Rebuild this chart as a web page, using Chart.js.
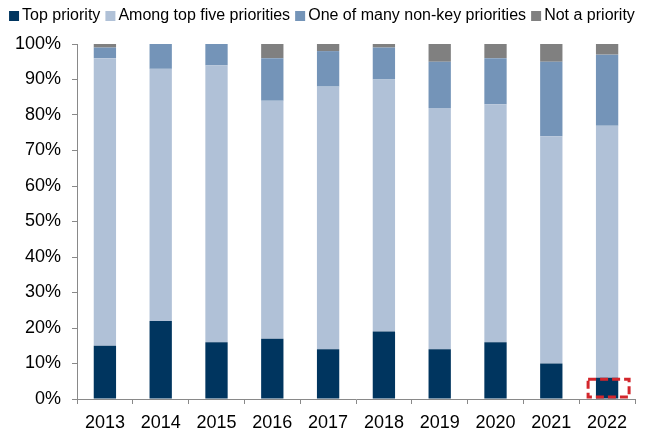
<!DOCTYPE html>
<html>
<head>
<meta charset="utf-8">
<script src="https://cdn.jsdelivr.net/npm/chart.js@4/dist/chart.umd.min.js"></script>
<style>
  html, body { margin: 0; padding: 0; background: #fff; }
  canvas { display: block; }
</style>
</head>
<body>
<canvas id="priorityChart" width="657" height="429"></canvas>
<script>
const years = ['2013', '2014', '2015', '2016', '2017', '2018', '2019', '2020', '2021', '2022'];
const topPriority = [15, 22, 16, 17, 14, 19, 14, 16, 10, 6];
const amongTopFive = [81, 71, 78, 67, 74, 71, 68, 67, 64, 71];
const nonKeyPriority = [3, 7, 6, 12, 10, 9, 13, 13, 21, 20];
const notAPriority = [1, 0, 0, 4, 2, 1, 5, 4, 5, 3];
const yTicks = [0, 10, 20, 30, 40, 50, 60, 70, 80, 90, 100];

const axisGrey = '#898989';
Chart.defaults.font.family = 'Arial, "Liberation Sans", sans-serif';
Chart.defaults.color = '#000';

// legend is one row, leave room under it before the plot starts
const legendSpacing = {
  id: 'legendSpacing',
  beforeLayout(chart) {
    const lg = chart.legend;
    if (!lg || lg._spaced) return;
    const fit = lg.fit;
    lg.fit = function () {
      fit.call(this);
      this.height = 46;
    };
    lg._spaced = true;
  }
};

// dashed red outline around the latest "Top priority" bar
const highlight2022 = {
  id: 'highlight2022',
  afterDatasetsDraw(chart) {
    const bar = chart.getDatasetMeta(0).data[years.indexOf('2022')];
    if (!bar) return;
    const ctx = chart.ctx;
    ctx.save();
    ctx.strokeStyle = '#d3262c';
    ctx.lineWidth = 3;
    ctx.setLineDash([8, 4]);
    ctx.strokeRect(bar.x - 19, bar.y + 1.5, 41, bar.base - bar.y - 3);
    ctx.restore();
  }
};

new Chart(document.getElementById('priorityChart'), {
  type: 'bar',
  data: {
    labels: years,
    datasets: [
      { label: 'Top priority', data: topPriority, backgroundColor: '#00355f' },
      { label: 'Among top five priorities', data: amongTopFive, backgroundColor: '#b0c1d7' },
      { label: 'One of many non-key priorities', data: nonKeyPriority, backgroundColor: '#7494b8' },
      { label: 'Not a priority', data: notAPriority, backgroundColor: '#808080' }
    ]
  },
  options: {
    responsive: false,
    animation: false,
    layout: { padding: { top: -2, left: 4, right: 0, bottom: 0 } },
    datasets: {
      bar: { barPercentage: 0.4, categoryPercentage: 1, borderWidth: 0 }
    },
    plugins: {
      tooltip: { enabled: false },
      legend: {
        position: 'top',
        align: 'start',
        labels: {
          // tiny box width keeps the square snug against its text
          usePointStyle: true,
          pointStyle: 'rect',
          boxWidth: 0.1,
          boxHeight: 10,
          padding: 10,
          font: { size: 16 }
        }
      }
    },
    scales: {
      x: {
        stacked: true,
        grid: { offset: true, drawOnChartArea: false, tickLength: 5, color: axisGrey },
        border: { color: axisGrey },
        ticks: { font: { size: 18 }, padding: 8, maxRotation: 0 },
        afterFit(scale) { scale.height = 30; }
      },
      y: {
        stacked: true,
        min: 0,
        max: 100,
        afterBuildTicks(scale) { scale.ticks = yTicks.map(v => ({ value: v })); },
        grid: { drawOnChartArea: false, tickLength: 5, color: axisGrey },
        border: { color: axisGrey },
        ticks: { font: { size: 18 }, padding: 11, callback: v => v + '%' },
        afterFit(scale) { scale.width = 73; }
      },
      rightGap: {
        position: 'right',
        grid: { display: false },
        border: { display: false },
        ticks: { display: false },
        afterFit(scale) { scale.width = 22; }
      }
    }
  },
  plugins: [legendSpacing, highlight2022]
});
</script>
</body>
</html>
